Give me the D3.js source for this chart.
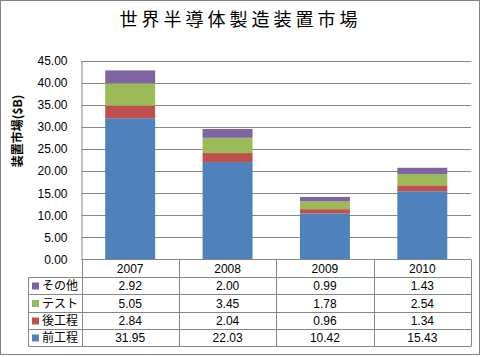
<!DOCTYPE html>
<html><head><meta charset="utf-8">
<script src="https://cdn.jsdelivr.net/npm/d3@7"></script>
<style>
body{margin:0;background:#fff;}
text{font-family:"Liberation Sans","Noto Sans CJK JP",sans-serif;}
</style></head>
<body><svg id="c" width="481" height="357"></svg>
<script>
const years = ["2007","2008","2009","2010"];
const seriesNames = ["前工程","後工程","テスト","その他"];
const zenkoutei = [31.95, 22.03, 10.42, 15.43];
const koukoutei = [2.84, 2.04, 0.96, 1.34];
const test = [5.05, 3.45, 1.78, 2.54];
const sonota = [2.92, 2.00, 0.99, 1.43];
const yTicks = [0,5,10,15,20,25,30,35,40,45];
const colors = ["#4F81BD","#C0504D","#9BBB59","#8064A2"];
const seriesValues = [zenkoutei, koukoutei, test, sonota];

const svg = d3.select("#c");
const W = 481, H = 357;
const grid = "#868686";
const pL = 81.5, pR = 471, pT = 60.5, pB = 259.5;

svg.append("rect").attr("x",0.5).attr("y",0.5).attr("width",W-2).attr("height",H-3)
  .attr("fill","#fff").attr("stroke","#808080").attr("stroke-width",1);

svg.append("text").attr("x",240.5).attr("y",26).attr("text-anchor","middle")
  .attr("font-size",18).attr("letter-spacing","4px")
  .style("font-family","'Noto Sans CJK JP',sans-serif")
  .text("世界半導体製造装置市場");

const x = d3.scaleBand().domain(years).range([pL,pR]).paddingInner(0.487).paddingOuter(0.2435);
const y = d3.scaleLinear().domain([0,45]).range([pB,pT]);

// gridlines
svg.append("g").selectAll("line").data(yTicks.filter(d=>d>0)).join("line")
  .attr("x1",pL).attr("x2",pR).attr("y1",d=>Math.round(y(d))+0.5).attr("y2",d=>Math.round(y(d))+0.5)
  .attr("stroke",grid).attr("stroke-width",1);

// y axis
const yAxis = d3.axisLeft(y).tickValues(yTicks).tickFormat(d3.format(".2f")).tickSize(0).tickPadding(14);
const ga = svg.append("g").attr("transform",`translate(${pL},0)`).call(yAxis);
ga.select(".domain").attr("stroke",grid);
ga.selectAll("text").attr("font-size",12).attr("fill","#000").style("font-family","'Liberation Sans',sans-serif");

svg.append("text").attr("transform","translate(22,131) rotate(-90)").attr("text-anchor","middle")
  .attr("font-size",12).attr("font-weight","bold").style("font-family","'Noto Sans CJK JP',sans-serif")
  .text("装置市場($B)");

// stacked bars
const rows = years.map((yr,i)=>{const o={year:yr}; seriesNames.forEach((s,j)=>o[s]=seriesValues[j][i]); return o;});
const stack = d3.stack().keys(seriesNames)(rows);
svg.append("g").selectAll("g").data(stack).join("g").attr("fill",(d,i)=>colors[i])
  .selectAll("rect").data(d=>d).join("rect")
  .attr("x",d=>x(d.data.year)).attr("width",x.bandwidth())
  .attr("y",d=>y(d[1])).attr("height",d=>y(d[0])-y(d[1]));

// data table
const tLeft = 28.5, hdrTop = 259.5, rowH = 17.3;
const tableOrder = [3,2,1,0];
const rowYs = d3.range(6).map(i=> i===0 ? hdrTop : Math.round(hdrTop + 17.5 + (i-1)*rowH)+0.5);
const tg = svg.append("g");
tg.append("line").attr("x1",pL).attr("x2",pR).attr("y1",hdrTop).attr("y2",hdrTop).attr("stroke",grid);
rowYs.slice(1).forEach(yy=>tg.append("line").attr("x1",tLeft).attr("x2",pR).attr("y1",yy).attr("y2",yy).attr("stroke",grid));
const colEdges = [pL, ...years.map(yr=>x(yr)+x.bandwidth()/2+x.step()/2)];
colEdges.forEach(xx=>tg.append("line").attr("x1",Math.round(xx)+0.5).attr("x2",Math.round(xx)+0.5).attr("y1",hdrTop).attr("y2",rowYs[5]).attr("stroke",grid));
tg.append("line").attr("x1",tLeft).attr("x2",tLeft).attr("y1",rowYs[1]).attr("y2",rowYs[5]).attr("stroke",grid);
tg.selectAll("text.hdr").data(years).join("text").attr("class","hdr")
  .attr("x",d=>x(d)+x.bandwidth()/2).attr("y",(rowYs[0]+rowYs[1])/2).attr("dy","0.36em")
  .attr("text-anchor","middle").attr("font-size",12).text(d=>d);
tableOrder.forEach((si,r)=>{
  const cy = (rowYs[r+1]+rowYs[r+2])/2;
  tg.append("rect").attr("x",32).attr("y",cy-3.5).attr("width",7).attr("height",7).attr("fill",colors[si]);
  tg.append("text").attr("x",42).attr("y",cy).attr("dy","0.36em").attr("font-size",12)
    .style("font-family","'Noto Sans CJK JP',sans-serif").text(seriesNames[si]);
  tg.selectAll(null).data(seriesValues[si]).join("text")
    .attr("x",(d,i)=>x(years[i])+x.bandwidth()/2).attr("y",cy).attr("dy","0.36em")
    .attr("text-anchor","middle").attr("font-size",12).text(d=>d3.format(".2f")(d));
});
</script></body></html>
